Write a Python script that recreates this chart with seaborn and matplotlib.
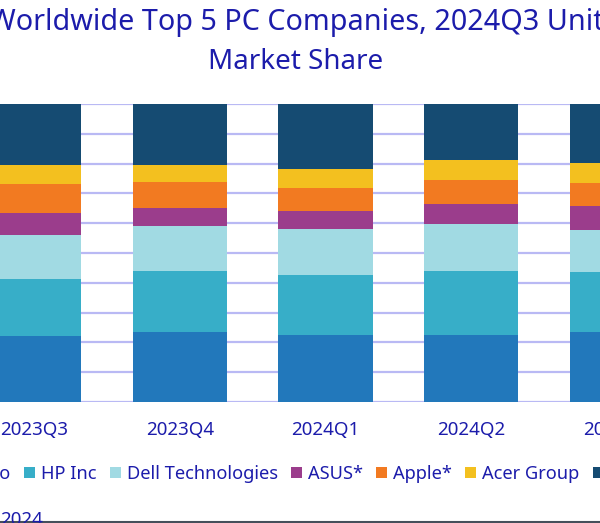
import matplotlib
matplotlib.use("Agg")
import matplotlib.pyplot as plt
import seaborn as sns
import numpy as np
from matplotlib.patches import Patch
from matplotlib.lines import Line2D

quarters = ["2023Q3", "2023Q4", "2024Q1", "2024Q2", "2024Q3"]
companies = ["Lenovo", "HP Inc", "Dell Technologies", "ASUS*", "Apple*", "Acer Group", "Others"]
lenovo = [22.2, 23.6, 22.6, 22.6, 23.6]
hp = [19.2, 20.5, 19.9, 21.5, 19.9]
dell = [14.8, 14.8, 15.5, 15.5, 14.1]
asus = [7.1, 6.1, 6.1, 6.7, 8.1]
apple = [9.8, 8.8, 7.7, 8.1, 7.7]
acer = [6.4, 5.7, 6.4, 6.7, 6.7]
others = [20.5, 20.5, 21.9, 18.9, 19.9]
colors = ["#2278bb", "#37aec8", "#a1dae3", "#9b3d8c", "#f27a21", "#f3c01f", "#154b72"]
title_lines = ["Worldwide Top 5 PC Companies, 2024Q3 Unit", "Market Share"]
footer = "2024"

sns.set_theme(style="white")
plt.rcParams["font.family"] = ["Noto Sans", "DejaVu Sans"]
TXT = "#1c1cab"

fig = plt.figure(figsize=(6, 5.23), dpi=100)
ax = fig.add_axes([-39 / 600, 1 - 402 / 523, 729 / 600, 298 / 523])

series = np.array([lenovo, hp, dell, asus, apple, acer, others])
cum = np.cumsum(series, axis=0)
for i in range(len(companies) - 1, -1, -1):
    sns.barplot(x=quarters, y=cum[i], order=quarters, color=colors[i], saturation=1,
                width=0.645, linewidth=0, edgecolor="none", ax=ax, zorder=2)

ax.set_xlim(-0.5, 4.5)
ax.set_ylim(0, 100)
ax.set_yticks(np.arange(0, 101, 10))
ax.set_yticklabels([])
ax.set_axisbelow(True)
ax.yaxis.grid(True, color="#b9b9f4", linewidth=1.6)
ax.xaxis.grid(False)
for s in ax.spines.values():
    s.set_visible(False)
ax.tick_params(axis="x", length=0, pad=14, labelsize=13.5, labelcolor=TXT)
ax.tick_params(axis="y", length=0)
ax.set_xlabel("")
ax.set_ylabel("")

fig.text(296 / 600, 1 - 30 / 523, title_lines[0], ha="center", va="baseline",
         fontsize=20.7, color=TXT)
fig.text(296 / 600, 1 - 69 / 523, title_lines[1], ha="center", va="baseline",
         fontsize=20, color=TXT)

handles = [Patch(facecolor=c, edgecolor="none") for c in colors]
fig.legend(handles, companies, loc="center", bbox_to_anchor=(300 / 600, 1 - 474 / 523),
           ncol=7, frameon=False, fontsize=13.15, labelcolor=TXT,
           handlelength=0.6, handleheight=0.6, handletextpad=0.3, columnspacing=0.75)

fig.text(0.0, 1 - 511 / 523, footer, ha="left", va="top", fontsize=13.5, color=TXT)
fig.add_artist(Line2D([0, 1], [0.001, 0.001], transform=fig.transFigure,
                      color="#454f5a", linewidth=1.5))

fig.savefig("out.png", dpi=100)
